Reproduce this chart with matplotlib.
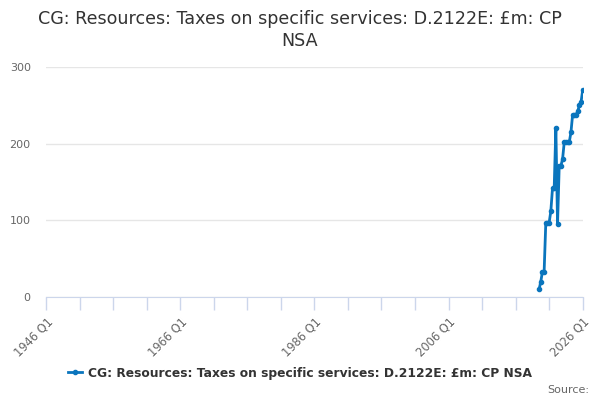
import matplotlib
matplotlib.use("Agg")
import matplotlib.pyplot as plt
from matplotlib.ticker import FixedLocator
from matplotlib.lines import Line2D

# Data: quarterly, 2019 Q3 .. 2026 Q1
start_year = 2019
start_quarter = 3
values = [10, 20, 33, 33, 97, 97, 97, 112, 142, 142, 221, 95, 171, 171,
          180, 202, 202, 202, 202, 215, 238, 238, 238, 242, 250, 254, 270]
series_name = "CG: Resources: Taxes on specific services: D.2122E: £m: CP NSA"
title = "CG: Resources: Taxes on specific services: D.2122E: £m: CP\nNSA"
x_labels_years = [1946, 1966, 1986, 2006, 2026]
y_ticks = [0, 100, 200, 300]

xs = [start_year + (start_quarter - 1 + i) / 4.0 for i in range(len(values))]

fig = plt.figure(figsize=(6, 4), dpi=100)
ax = fig.add_axes([46/600, 1-297/400, (582.7-46)/600, (297-67)/400])

line_color = "#0a75bd"
ax.plot(xs, values, color=line_color, lw=2, marker="o", ms=3, zorder=3)

ax.set_xlim(1946, 2026)
ax.set_ylim(0, 300)

ax.set_yticks(y_ticks)
ax.set_yticklabels([str(v) for v in y_ticks], color="#666666", fontsize=8)
ax.tick_params(axis="y", length=0, pad=11)
ax.grid(axis="y", color="#e6e6e6", lw=1)
ax.set_axisbelow(True)

minor = list(range(1946, 2027, 5))
ax.xaxis.set_major_locator(FixedLocator(minor))
ax.set_xticklabels([f"{y} Q1" if y in x_labels_years else "" for y in minor],
                   rotation=45, ha="right", rotation_mode="anchor",
                   color="#666666", fontsize=8.3)
ax.tick_params(axis="x", length=9, color="#ccd6eb", width=1, pad=4)

for s in ["top", "right", "left"]:
    ax.spines[s].set_visible(False)
ax.spines["bottom"].set_color("#ccd6eb")

fig.text(0.5, 0.975, title, ha="center", va="top", fontsize=12.6,
         color="#333333", linespacing=1.25)

h = Line2D([0], [0], color=line_color, lw=2, marker="o", ms=3)
fig.legend([h], [series_name], loc="center", bbox_to_anchor=(0.5, 1-373/400),
           frameon=False, prop={"weight": "bold", "size": 8.8},
           handlelength=1.2, handletextpad=0.5, labelcolor="#333333")

fig.text(0.982, 1-390/400, "Source:", ha="right", va="center",
         fontsize=8, color="#666666")

fig.savefig("out.png", dpi=100)
